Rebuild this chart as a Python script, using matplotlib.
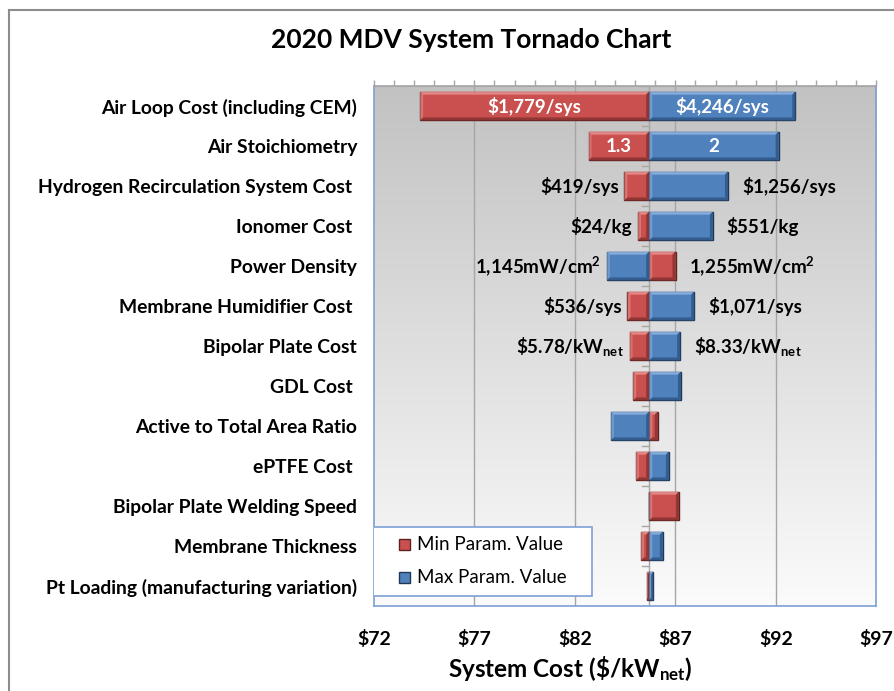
import numpy as np
import matplotlib.pyplot as plt
from matplotlib.patches import Polygon, Rectangle
from matplotlib.lines import Line2D
from matplotlib.colors import LinearSegmentedColormap
from matplotlib.ticker import MultipleLocator

plt.rcParams['font.family'] = ['Lato', 'DejaVu Sans']
plt.rcParams['mathtext.fontset'] = 'custom'
plt.rcParams['mathtext.rm'] = 'Lato:bold'
plt.rcParams['mathtext.it'] = 'Lato:bold'
plt.rcParams['mathtext.bf'] = 'Lato:bold'

# baseline system cost ($/kWnet)
base_cost = 85.7

categories = [
    "Air Loop Cost (including CEM)",
    "Air Stoichiometry",
    "Hydrogen Recirculation System Cost ",
    "Ionomer Cost ",
    "Power Density",
    "Membrane Humidifier Cost ",
    "Bipolar Plate Cost",
    "GDL Cost ",
    "Active to Total Area Ratio",
    "ePTFE Cost ",
    "Bipolar Plate Welding Speed",
    "Membrane Thickness",
    "Pt Loading (manufacturing variation)",
]
# system cost at min / max parameter value
min_param_cost = [74.30, 82.68, 84.46, 85.14, 87.01, 84.62, 84.72, 84.90, 86.13, 85.04, 87.18, 85.29, 85.58]
max_param_cost = [92.97, 92.14, 89.62, 88.87, 83.59, 87.94, 87.24, 87.28, 83.79, 86.68, 85.70, 86.38, 85.90]

left_labels = ["\\$1,779/sys", "1.3", "\\$419/sys", "\\$24/kg", "1,145mW/cm$^{2}$",
               "\\$536/sys", "\\$5.78/kW$_{\\mathrm{net}}$", "", "", "", "", "", ""]
right_labels = ["\\$4,246/sys", "2", "\\$1,256/sys", "\\$551/kg", "1,255mW/cm$^{2}$",
                "\\$1,071/sys", "\\$8.33/kW$_{\\mathrm{net}}$", "", "", "", "", "", ""]
inside_rows = [0, 1]

xticks = [72, 77, 82, 87, 92, 97]
xtick_labels = ["\\$72", "\\$77", "\\$82", "\\$87", "\\$92", "\\$97"]

legend_labels = ["Min Param. Value", "Max Param. Value"]

red = "#c9504e"
red_light = "#ea8f8c"
red_dark = "#8a3432"
red_edge = "#5e2221"
blue = "#4f81bd"
blue_light = "#8cb2e0"
blue_dark = "#315a8a"
blue_edge = "#1f3856"
axis_blue = "#7ea0d4"
grid_gray = "#a6a6a6"

n = len(categories)
ypos = np.arange(n)[::-1]
bar_h = 0.72
label_size = 13.5

fig = plt.figure(figsize=(8.94, 6.91), dpi=100)
ax = fig.add_axes([0.4182, 0.1230, 0.5620, 0.7525])
ax.set_xlim(72, 97)
ax.set_ylim(-0.5, n - 0.5)

# gray-to-white plot area fill
grad = LinearSegmentedColormap.from_list("bg", ["#fbfbfb", "#c2c2c2"])
ax.imshow(np.linspace(0, 1, 256).reshape(-1, 1), cmap=grad, origin="lower",
          extent=[72, 97, -0.5, n - 0.5], aspect="auto", zorder=0)

for gx in xticks[1:-1]:
    ax.axvline(gx, color=grid_gray, lw=1.0, zorder=1)
ax.axvline(base_cost, color=grid_gray, lw=1.0, zorder=1)
# category tick marks on the baseline
for b in np.arange(-0.5, n, 1.0):
    ax.plot([base_cost - 0.35, base_cost], [b, b], color=grid_gray, lw=1.0, zorder=1)

ax.barh(ypos, np.array(min_param_cost) - base_cost, left=base_cost, height=bar_h,
        color=red, edgecolor=red_edge, linewidth=1.0, zorder=2)
ax.barh(ypos, np.array(max_param_cost) - base_cost, left=base_cost, height=bar_h,
        color=blue, edgecolor=blue_edge, linewidth=1.0, zorder=2)


def bevel(x_end, yc, light, dark):
    xa, xb = min(base_cost, x_end), max(base_cost, x_end)
    if xb - xa < 1e-6:
        return
    y0, y1 = yc - bar_h / 2, yc + bar_h / 2
    bx = min(0.15, (xb - xa) / 2)
    by = 0.075
    faces = [
        ([(xa, y1), (xb, y1), (xb - bx, y1 - by), (xa + bx, y1 - by)], light, 0.9),
        ([(xa, y0), (xa, y1), (xa + bx, y1 - by), (xa + bx, y0 + by)], light, 0.6),
        ([(xa, y0), (xb, y0), (xb - bx, y0 + by), (xa + bx, y0 + by)], dark, 0.9),
        ([(xb, y0), (xb, y1), (xb - bx, y1 - by), (xb - bx, y0 + by)], dark, 0.9),
    ]
    for pts, c, a in faces:
        ax.add_patch(Polygon(pts, closed=True, facecolor=c, edgecolor="none",
                             alpha=a, zorder=3))


for y, lo, hi in zip(ypos, min_param_cost, max_param_cost):
    bevel(lo, y, red_light, red_dark)
    bevel(hi, y, blue_light, blue_dark)

# value labels
for i, y in enumerate(ypos):
    lo, hi = min_param_cost[i], max_param_cost[i]
    left_end, right_end = min(lo, hi, base_cost), max(lo, hi, base_cost)
    if i in inside_rows:
        ax.text((left_end + base_cost) / 2, y, left_labels[i], color="white",
                fontsize=label_size, fontweight="bold", ha="center", va="center", zorder=4)
        ax.text((right_end + base_cost) / 2, y, right_labels[i], color="white",
                fontsize=label_size, fontweight="bold", ha="center", va="center", zorder=4)
        continue
    if left_labels[i]:
        ax.annotate(left_labels[i], (left_end, y), xytext=(-4, 0),
                    textcoords="offset points", ha="right", va="center",
                    fontsize=label_size, fontweight="bold", zorder=4)
    if right_labels[i]:
        ax.annotate(right_labels[i], (right_end, y), xytext=(10, 0),
                    textcoords="offset points", ha="left", va="center",
                    fontsize=label_size, fontweight="bold", zorder=4)

ax.set_yticks(ypos)
ax.set_yticklabels(categories, fontsize=13.9, fontweight="bold")
ax.tick_params(axis="y", length=0, pad=12)
ax.set_xticks(xticks)
ax.set_xticklabels(xtick_labels, fontsize=14, fontweight="bold")
ax.tick_params(axis="x", length=0, pad=17)
ax.set_xlabel("System Cost (\\$/kW$_{\\mathrm{net}}$)", fontsize=17.5,
              fontweight="bold", labelpad=6)
ax.xaxis.set_label_coords(0.39, -0.093)

for side in ["left", "right", "bottom"]:
    ax.spines[side].set_color(axis_blue)
    ax.spines[side].set_linewidth(1.2)
ax.spines["top"].set_color(grid_gray)
ax.spines["top"].set_linewidth(1.2)

top = ax.secondary_xaxis("top")
top.xaxis.set_major_locator(MultipleLocator(1))
top.set_xticklabels([])
top.tick_params(length=4, color=grid_gray, width=1.0)
top.spines["top"].set_color(grid_gray)

# legend box drawn in axes coordinates
ax.add_patch(Rectangle((-0.002, 0.019), 0.436, 0.133, transform=ax.transAxes,
                       facecolor="white", edgecolor=axis_blue, lw=1.2, zorder=5))
for yk, fc, ec, lab in [(0.119, red, red_edge, legend_labels[0]),
                        (0.054, blue, blue_edge, legend_labels[1])]:
    ax.add_patch(Rectangle((0.051, yk - 0.0105), 0.021, 0.021, transform=ax.transAxes,
                           facecolor=fc, edgecolor=ec, lw=1.0, zorder=6))
    ax.text(0.0858, yk, lab, transform=ax.transAxes, fontsize=13.5,
            ha="left", va="center", zorder=6)

fig.text(0.527, 0.942, "2020 MDV System Tornado Chart", fontsize=19,
         fontweight="bold", ha="center", va="center")

# outer chart frame
fig.add_artist(Line2D([9 / 894, 1.0], [1 - 10 / 691] * 2, color="#8c8c8c", lw=1.5,
                      transform=fig.transFigure))
fig.add_artist(Line2D([9 / 894] * 2, [1 - 10 / 691, 0.0], color="#8c8c8c", lw=1.5,
                      transform=fig.transFigure))

fig.savefig("out.png", dpi=100)
